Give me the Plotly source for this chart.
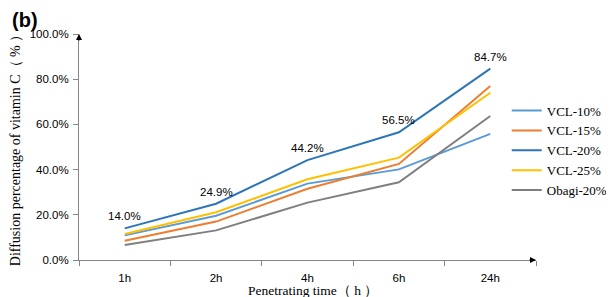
import plotly.graph_objects as go

categories = ["1h", "2h", "4h", "6h", "24h"]
series_names = ["VCL-10%", "VCL-15%", "VCL-20%", "VCL-25%", "Obagi-20%"]
vcl10 = [10.9, 19.6, 33.8, 40.1, 55.8]
vcl15 = [8.5, 17.0, 31.5, 42.5, 77.0]
vcl20 = [14.0, 24.9, 44.2, 56.5, 84.7]
vcl25 = [11.5, 21.1, 35.7, 45.3, 74.0]
obagi20 = [6.6, 13.1, 25.4, 34.4, 63.7]
colors = ["#5B9BD5", "#ED7D31", "#2E75B6", "#FFC000", "#7F7F7F"]
y_ticks = [0, 20, 40, 60, 80, 100]
y_tick_labels = ["0.0%", "20.0%", "40.0%", "60.0%", "80.0%", "100.0%"]

all_series = [vcl10, vcl15, vcl20, vcl25, obagi20]

fig = go.Figure()
for name, vals, col in zip(series_names, all_series, colors):
    fig.add_trace(go.Scatter(
        x=categories, y=vals, name=name, mode="lines",
        line=dict(color=col, width=2),
    ))

# data labels on VCL-20%
for c, v in zip(categories, vcl20):
    fig.add_annotation(x=c, y=v, text=f"{v:.1f}%", showarrow=False,
                       yshift=12, yanchor="middle",
                       font=dict(family="Liberation Sans", size=11.5, color="#000"))

axis_color = "#868686"
fig.update_layout(
    width=606, height=289,
    margin=dict(l=71, r=78, t=26, b=37, autoexpand=False),
    paper_bgcolor="white", plot_bgcolor="white",
    showlegend=True,
    legend=dict(xref="container", yref="container", x=0.823, xanchor="left",
                y=0.697, yanchor="top",
                font=dict(family="Liberation Serif", size=13, color="#000"),
                tracegroupgap=0, itemwidth=30, bgcolor="rgba(0,0,0,0)"),
    xaxis=dict(type="category", range=[-0.5, 4.5], showgrid=False,
               showline=True, linecolor=axis_color, linewidth=1,
               ticks="outside", tickson="boundaries", ticklen=5, tickcolor=axis_color,
               ticklabelstandoff=7,
               tickfont=dict(family="Liberation Sans", size=11.5, color="#000")),
    yaxis=dict(range=[0, 100], showgrid=False, zeroline=False,
               showline=True, linecolor=axis_color, linewidth=1,
               ticks="outside", ticklen=5, tickcolor=axis_color,
               ticklabelstandoff=2,
               tickvals=y_ticks, ticktext=y_tick_labels,
               tickfont=dict(family="Liberation Sans", size=11.5, color="#000"),
               title=dict(text="Diffusion percentage of vitamin C（ % ）", standoff=14,
                          font=dict(family="Liberation Serif", size=14, color="#000"))),
)

# x-axis title
fig.add_annotation(x=0.512, y=-0.135, xref="paper", yref="paper",
                   xanchor="center", yanchor="middle", showarrow=False,
                   text="Penetrating time（ h ）",
                   font=dict(family="Liberation Serif", size=13.5, color="#000"))

# axis arrows
fig.add_annotation(x=0, y=1.0, xref="paper", yref="paper", ax=0, ay=8,
                   showarrow=True, arrowhead=2, arrowsize=1, arrowwidth=1.2,
                   arrowcolor="#000", text="")
fig.add_annotation(x=1.0, y=0, xref="paper", yref="paper", ax=-8, ay=0,
                   showarrow=True, arrowhead=2, arrowsize=1, arrowwidth=1.2,
                   arrowcolor="#000", text="")
fig.add_annotation(x=-0.15, y=1.062, xref="paper", yref="paper",
                   xanchor="left", yanchor="middle", showarrow=False, text="<b>(b)</b>",
                   font=dict(family="Liberation Sans", size=20, color="#000"))

fig.write_html("out.html")
